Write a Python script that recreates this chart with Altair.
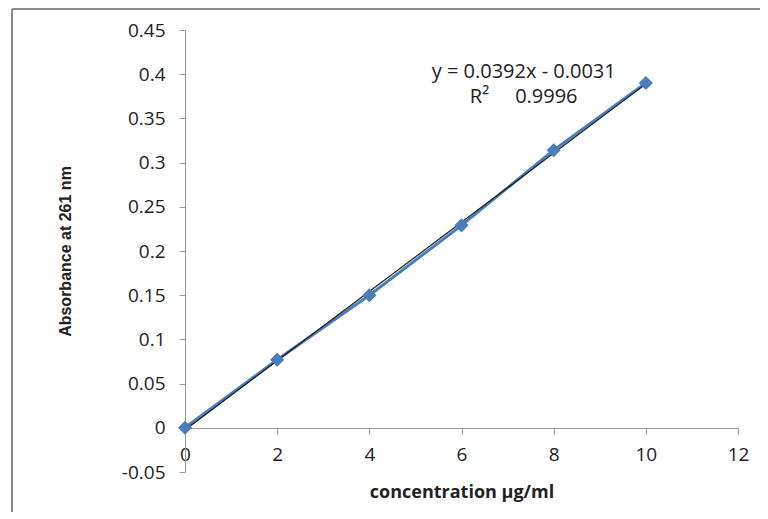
import altair as alt
import pandas as pd

# Data
concentration = [0, 2, 4, 6, 8, 10]
absorbance = [0.0, 0.077, 0.150, 0.229, 0.314, 0.390]
y_ticks = [-0.05, 0, 0.05, 0.1, 0.15, 0.2, 0.25, 0.3, 0.35, 0.4, 0.45]
x_ticks = [0, 2, 4, 6, 8, 10, 12]
eq_lines = ["y = 0.0392x - 0.0031", "R\u00b2\u00a0\u00a0\u00a0\u00a0\u00a00.9996"]
eq_x = [7.35, 7.35]
eq_y = [0.403, 0.374]

df = pd.DataFrame({"x": concentration, "y": absorbance})
eq_df = pd.DataFrame({"x": eq_x, "y": eq_y, "t": eq_lines})

BLUE = "#4A7EBB"
FONT = "Open Sans"

xscale = alt.Scale(domain=[0, 12], nice=False, zero=False)
yscale = alt.Scale(domain=[-0.05, 0.45], nice=False, zero=False)

x_enc = alt.X(
    "x:Q", scale=xscale,
    axis=alt.Axis(
        values=x_ticks, title="concentration \u00b5g/ml", offset=-44,
        grid=False, domainColor="#9a9a9a", tickColor="#9a9a9a", tickSize=6,
        labelPadding=11, labelFontSize=19, labelFont=FONT, labelColor="#222",
        titleFont=FONT, titleFontSize=18, titleFontWeight="bold",
        titlePadding=19, titleColor="#222", labelFlush=False,
    ),
)
y_enc = alt.Y(
    "y:Q", scale=yscale,
    axis=alt.Axis(
        values=y_ticks, title="Absorbance at 261 nm", grid=False,
        labelExpr="datum.value == 0 ? '0' : replace(format(datum.value, '.2~f'), '\u2212', '-')",
        domainColor="#9a9a9a", tickColor="#9a9a9a", tickSize=6,
        labelPadding=14, labelFontSize=19, labelFont=FONT, labelColor="#222",
        titleFont="Liberation Sans", titleFontSize=16, titleFontWeight="bold",
        titlePadding=48, titleColor="#222",
    ),
)

base = alt.Chart(df)

series_line = base.mark_line(color=BLUE, strokeWidth=3).encode(x=x_enc, y=y_enc)

trend = base.transform_regression("x", "y", extent=[0, 10]).mark_line(
    color="#1a1a1a", strokeWidth=1.2
).encode(x=alt.X("x:Q", scale=xscale), y=alt.Y("y:Q", scale=yscale))

points = base.mark_point(
    shape="diamond", filled=True, size=200, color=BLUE, opacity=1
).encode(x=alt.X("x:Q", scale=xscale), y=alt.Y("y:Q", scale=yscale))

eq_text = alt.Chart(eq_df).mark_text(
    font=FONT, fontSize=20, color="#222", align="center", baseline="middle"
).encode(x=alt.X("x:Q", scale=xscale), y=alt.Y("y:Q", scale=yscale), text="t:N")

frame_left = alt.Chart(df).mark_rule(color="#8a8a8a", strokeWidth=2).encode(
    x=alt.value(-173), y=alt.value(-21), y2=alt.value(520)
)
frame_top = alt.Chart(df).mark_rule(color="#8a8a8a", strokeWidth=2).encode(
    x=alt.value(-173), x2=alt.value(600), y=alt.value(-21)
)

chart = alt.layer(
    frame_left, frame_top, series_line, trend, points, eq_text
).properties(
    width=553, height=442,
    autosize=alt.AutoSizeParams(type="none"),
    padding={"left": 177, "top": 22, "right": 22, "bottom": 40},
    background="white",
).configure_view(stroke=None)

chart.save("out.html", embed_options={"renderer": "svg", "actions": False})
